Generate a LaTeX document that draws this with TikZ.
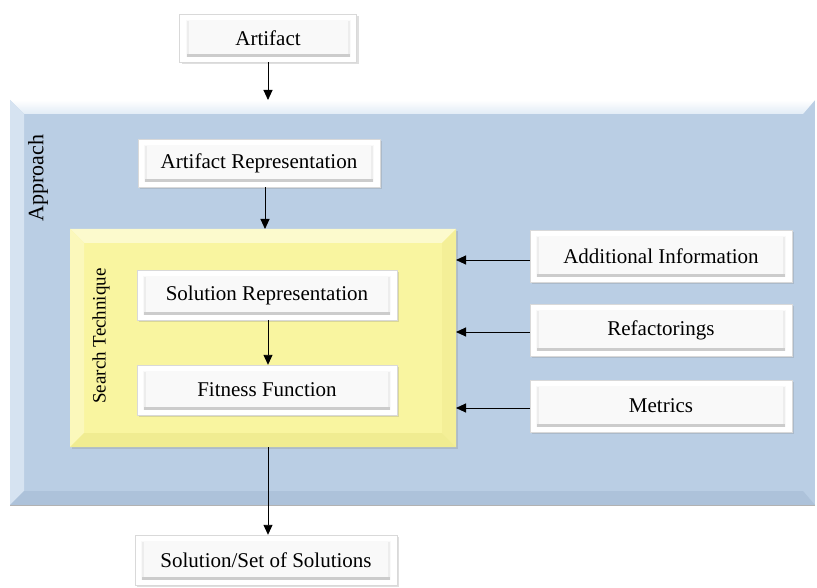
\documentclass[tikz,border=0pt]{standalone}
\usepackage{fontspec}
\setmainfont{Liberation Serif}
\usetikzlibrary{arrows.meta,shadows}
\definecolor{bluemain}{RGB}{186,206,228}
\definecolor{bluelight}{RGB}{226,236,246}
\definecolor{bluedark}{RGB}{160,182,208}
\definecolor{yelmain}{RGB}{249,245,160}
\definecolor{yellight}{RGB}{252,250,205}
\definecolor{yeldark}{RGB}{232,226,130}
\tikzset{
  card/.style={draw=gray!30, line width=0.4pt, fill=gray!5, minimum height=48pt,
    font=\fontsize{21}{23}\selectfont, inner sep=0pt,
    drop shadow={shadow xshift=2pt, shadow yshift=-2pt, opacity=0.25},
    path picture={
      \fill[white] (path picture bounding box.south west) rectangle ([xshift=6pt]path picture bounding box.north west);
      \fill[white] (path picture bounding box.south east) rectangle ([xshift=-6pt]path picture bounding box.north east);
      \fill[white] ([yshift=-6pt]path picture bounding box.north west) rectangle (path picture bounding box.north east);
      \fill[white] ([yshift=5pt]path picture bounding box.south west) rectangle (path picture bounding box.south east);
      \fill[gray!40] ([xshift=7pt,yshift=5pt]path picture bounding box.south west) rectangle ([xshift=-7pt,yshift=8pt]path picture bounding box.south east);
      \fill[gray!14] ([xshift=7pt,yshift=8pt]path picture bounding box.south west) rectangle ([xshift=9pt,yshift=-7pt]path picture bounding box.north west);
      \fill[gray!14] ([xshift=-7pt,yshift=8pt]path picture bounding box.south east) rectangle ([xshift=-9pt,yshift=-7pt]path picture bounding box.north east);
    }},
  arr/.style={-{Triangle[length=10pt,width=9pt]}, line width=0.9pt, black}
}
\begin{document}
\begin{tikzpicture}[x=1pt,y=-1pt]
\useasboundingbox (0,0) rectangle (817,588);
\fill[white] (0,0) rectangle (817,588);
% Approach box with bevel
\fill[bluemain] (10,100) rectangle (815,505);
\shade[top color=white, bottom color=bluelight] (10,100) -- (815,100) -- (803,114) -- (24,114) -- cycle;
\fill[bluelight!70!bluemain] (10,100) -- (24,114) -- (24,491) -- (10,505) -- cycle;
\fill[bluedark!50!bluemain] (10,505) -- (24,491) -- (803,491) -- (815,505) -- cycle;
\draw[gray!60, line width=0.5pt] (10,505) -- (815,505);
\node[rotate=90, font=\fontsize{22}{24}\selectfont] (appr) at (38,178) {Approach};
% Search technique box with bevel
\fill[yelmain, drop shadow={shadow xshift=2pt, shadow yshift=-2pt, opacity=0.25}] (70,229) rectangle (456,447);
\fill[yellight] (70,229) -- (456,229) -- (442,243) -- (84,243) -- cycle;
\fill[yellight!60!yelmain] (70,229) -- (84,243) -- (84,433) -- (70,447) -- cycle;
\fill[yeldark!50!yelmain] (70,447) -- (84,433) -- (442,433) -- (456,447) -- cycle;
\fill[yeldark!30!yelmain] (456,229) -- (442,243) -- (442,433) -- (456,447) -- cycle;
\coordinate (ytop) at (265,229);
\coordinate (ybot) at (268,447);
\coordinate (yr1) at (456,260);
\coordinate (yr2) at (456,332);
\coordinate (yr3) at (456,408);
\coordinate (atop) at (268,100);
\node[rotate=90, font=\fontsize{19}{21}\selectfont] (st) at (101,336) {Search Technique};
% cards
\node[card, minimum width=177pt] (art) at (268,38) {Artifact};
\node[card, minimum width=242pt] (artrep) at (259,163) {Artifact Representation};
\node[card, minimum width=260pt, minimum height=50pt] (solrep) at (267,295) {Solution Representation};
\node[card, minimum width=260pt, minimum height=50pt] (fit) at (267,390) {Fitness Function};
\node[card, minimum width=262pt, minimum height=52pt] (add) at (661,256) {Additional Information};
\node[card, minimum width=262pt, minimum height=52pt] (ref) at (661,330) {Refactorings};
\node[card, minimum width=262pt, minimum height=52pt] (met) at (661,406) {Metrics};
\node[card, minimum width=262pt, minimum height=50pt] (sol) at (266,560) {Solution/Set of Solutions};
% arrows
\draw[arr] (art.south) -- (atop);
\draw[arr] (artrep.south -| ytop) -- (ytop);
\draw[arr] (solrep.south -| 268,0) -- (fit.north -| 268,0);
\draw[arr] (add.west |- yr1) -- (yr1);
\draw[arr] (ref.west |- yr2) -- (yr2);
\draw[arr] (met.west |- yr3) -- (yr3);
\draw[arr] (ybot) -- (sol.north -| ybot);
\end{tikzpicture}
\end{document}
